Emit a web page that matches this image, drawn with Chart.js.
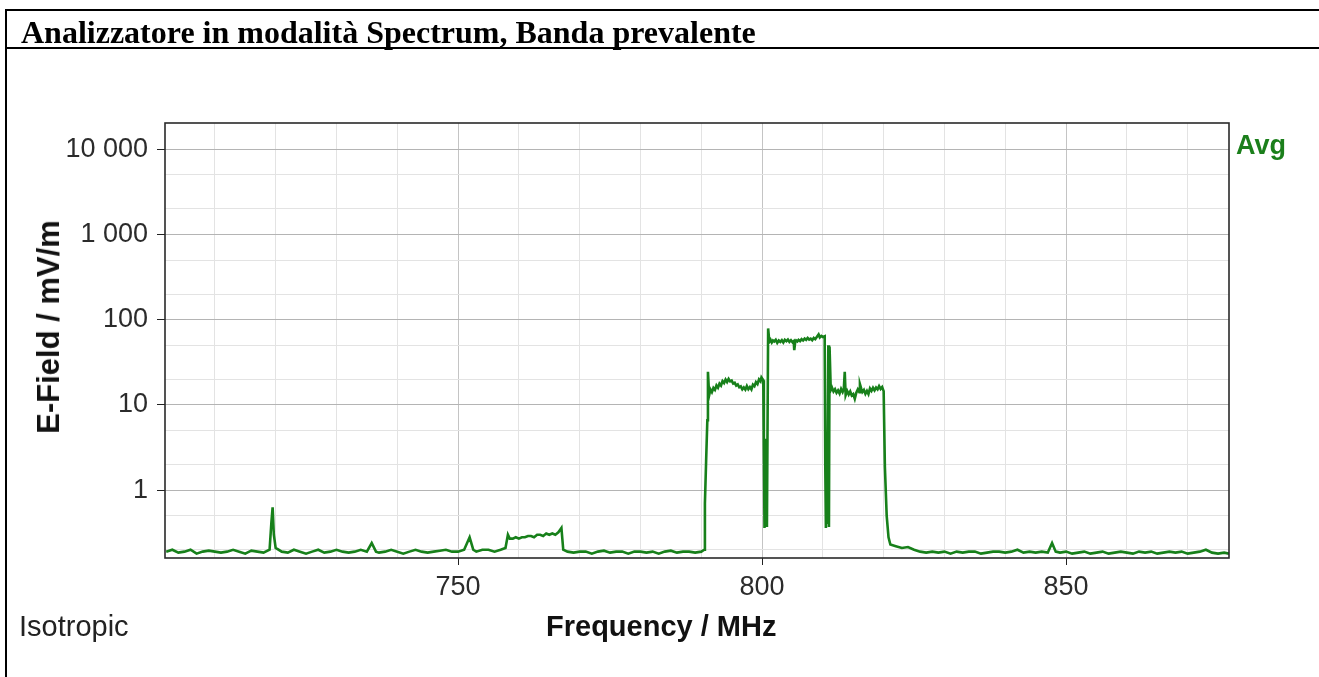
<!DOCTYPE html>
<html lang="it">
<head>
    <meta charset="UTF-8">
    <title>Analizzatore in modalità Spectrum</title>
    <script src="https://cdn.jsdelivr.net/npm/chart.js"></script>
    <style>
        body { margin: 0; background: #fff; }
        #page { position: relative; width: 1319px; height: 677px; overflow: hidden; }
        #chart-box { position: absolute; left: 0; top: 0; width: 1319px; height: 677px; }
        .rule { position: absolute; background: #000; }
        .txt { position: absolute; white-space: nowrap; line-height: 1; }
        #title { left: 21px; top: 14px; font: bold 32px "Liberation Serif", "Times New Roman", serif; color: #000; }
        #y-title { left: 49px; top: 327px; font: bold 31px "Liberation Sans", Arial, sans-serif; color: #111;
                   transform: translate(-50%, -50%) rotate(-90deg); }
        #x-title { left: 546px; top: 610px; font: bold 29px "Liberation Sans", Arial, sans-serif; color: #111; }
        #iso { left: 19px; top: 610px; font: 29px "Liberation Sans", Arial, sans-serif; color: #222; }
        #avg { left: 1236px; top: 130px; font: bold 27px "Liberation Sans", Arial, sans-serif; color: #1b7f1b; }
    </style>
</head>
<body>
<div id="page">
    <div id="chart-box"><canvas id="spectrumChart"></canvas></div>
    <div class="rule" style="left:5px; top:9px; width:1314px; height:2px;"></div>
    <div class="rule" style="left:5px; top:47px; width:1314px; height:2px;"></div>
    <div class="rule" style="left:5px; top:9px; width:2px; height:668px;"></div>
    <div class="txt" id="title">Analizzatore in modalità Spectrum, Banda prevalente</div>
    <div class="txt" id="y-title">E-Field / mV/m</div>
    <div class="txt" id="x-title">Frequency / MHz</div>
    <div class="txt" id="iso">Isotropic</div>
    <div class="txt" id="avg">Avg</div>
</div>
<script>
    // Avg trace, frequency in MHz / E-field in mV/m
    const freqMHz = [
        702, 703, 704, 705, 706, 707, 708, 709, 710, 711,
        712, 713, 714, 715, 716, 717, 718, 719, 719.3, 719.5,
        719.7, 720, 721, 722, 723, 724, 725, 726, 727, 728,
        729, 730, 731, 732, 733, 734, 735, 735.8, 736.5, 737,
        738, 739, 740, 741, 742, 743, 744, 745, 746, 747,
        748, 749, 750, 751, 751.9, 752.5, 753, 754, 755, 756,
        757, 757.8, 758.2, 758.5, 759, 759.5, 760, 760.5, 761, 761.5,
        762, 762.5, 763, 763.5, 764, 764.5, 765, 765.5, 766, 766.5,
        767, 767.3, 768, 769, 770, 771, 772, 773, 774, 775,
        776, 777, 778, 779, 780, 781, 782, 783, 784, 785,
        786, 787, 788, 789, 790, 790.5, 790.6, 790.8, 791, 791.1,
        // block 791-800
        791.3, 791.5, 791.75, 792, 792.25, 792.5, 792.75, 793, 793.25, 793.5,
        793.75, 794, 794.25, 794.5, 794.75, 795, 795.25, 795.5, 795.75, 796,
        796.25, 796.5, 796.75, 797, 797.25, 797.5, 797.75, 798, 798.25, 798.5,
        798.75, 799, 799.25, 799.5, 799.75, 799.9, 800.2,
        800.3, 800.4, 800.5, 800.6, 800.7, 800.8,
        // block 801-810
        801, 801.2, 801.4, 801.6, 801.8, 802, 802.25, 802.5, 802.75, 803,
        803.25, 803.5, 803.75, 804, 804.25, 804.5, 804.75, 805, 805.2, 805.3,
        805.45, 805.6, 805.8, 806, 806.25, 806.5, 806.75, 807, 807.25, 807.5,
        807.75, 808, 808.25, 808.5, 808.75, 809, 809.3, 809.5, 809.75, 810,
        810.3,
        810.4, 810.5, 810.6, 810.7, 810.9, 811, 811.1,
        // block 811-820
        811.3, 811.5, 811.75, 812, 812.25, 812.5, 812.75, 813, 813.25, 813.45,
        813.6, 813.75, 814, 814.25, 814.5, 814.75, 815, 815.25, 815.5, 815.75,
        816, 816.1, 816.3, 816.5, 816.75, 817, 817.25, 817.5, 817.75, 818,
        818.25, 818.5, 818.75, 819, 819.25, 819.5, 819.75, 820, 820.2,
        820.5, 820.8, 821.1, 822, 823, 824, 825, 826, 827, 828,
        829, 830, 831, 832, 833, 834, 835, 836, 837, 838,
        839, 840, 841, 842, 843, 844, 845, 846, 847, 847.7,
        848.3, 849, 850, 851, 852, 853, 854, 855, 856, 857,
        858, 859, 860, 861, 862, 863, 864, 865, 866, 867,
        868, 869, 870, 871, 872, 873, 874, 875, 876, 876.8
    ];
    const avgEField = [
        0.19, 0.2, 0.185, 0.19, 0.2, 0.18, 0.19, 0.195, 0.19, 0.185,
        0.19, 0.2, 0.19, 0.18, 0.195, 0.19, 0.185, 0.2, 0.42, 0.63,
        0.3, 0.21, 0.19, 0.185, 0.2, 0.19, 0.18, 0.19, 0.2, 0.185,
        0.19, 0.2, 0.19, 0.185, 0.19, 0.2, 0.19, 0.24, 0.19, 0.185,
        0.19, 0.2, 0.19, 0.18, 0.19, 0.2, 0.19, 0.185, 0.19, 0.195,
        0.2, 0.19, 0.19, 0.2, 0.28, 0.2, 0.19, 0.2, 0.2, 0.19,
        0.2, 0.21, 0.3, 0.27, 0.27, 0.28, 0.27, 0.28, 0.28, 0.29,
        0.29, 0.28, 0.3, 0.3, 0.29, 0.31, 0.3, 0.31, 0.3, 0.32,
        0.36, 0.2, 0.19, 0.185, 0.19, 0.19, 0.18, 0.19, 0.195, 0.185,
        0.19, 0.19, 0.18, 0.19, 0.19, 0.185, 0.19, 0.18, 0.19, 0.195,
        0.185, 0.19, 0.19, 0.185, 0.19, 0.2, 0.7, 2.2, 6.6, 24.5,
        // block 791-800
        13, 15.2, 14.1, 15.8, 15.0, 16.9, 15.9, 17.8, 16.9, 19.0,
        18.1, 19.9, 18.6, 20.2, 18.9, 19.3, 17.8, 18.2, 16.9, 17.4,
        16.1, 16.5, 15.2, 16.0, 15.1, 16.7, 15.3, 16.2, 15.2, 17.3,
        16.6, 18.5, 17.6, 19.9, 18.9, 21.0, 19.5,
        3, 0.36, 1.6, 0.42, 4, 0.37,
        // block 801-810
        79, 55, 58, 54, 57, 55.5, 58, 53.5, 57, 55,
        57.5, 54, 58, 56, 58.5, 55, 57.5, 54.5, 56, 44,
        55, 57, 55.5, 58, 56, 59, 57, 60, 58, 61,
        58.5, 60, 57.5, 61, 59, 62.5, 67, 62, 64.5, 62.5,
        64,
        1.9, 0.36, 3.5, 0.4, 50, 0.37, 48.5,
        // block 811-820
        14.9, 16, 14.4, 15.3, 13.9, 14.8, 13.6, 15.4, 14.2, 15.5,
        24.5, 13.0, 14.6, 13.3, 14.4, 12.9, 13.4, 11.8, 13.9, 15.2,
        14.1, 17.5, 15.6, 14.2, 15.0, 13.5, 14.6, 13.4, 15.6, 14.6,
        15.9, 14.8, 16.0, 15.2, 16.6, 15.4, 16.2, 14.5, 1.9,
        0.5, 0.28, 0.23, 0.22, 0.21, 0.215, 0.2, 0.19, 0.185, 0.19,
        0.185, 0.19, 0.18, 0.19, 0.185, 0.19, 0.19, 0.18, 0.185, 0.19,
        0.19, 0.185, 0.19, 0.2, 0.185, 0.19, 0.185, 0.19, 0.185, 0.24,
        0.19, 0.185, 0.19, 0.18, 0.185, 0.19, 0.18, 0.185, 0.19, 0.18,
        0.185, 0.19, 0.185, 0.18, 0.19, 0.185, 0.19, 0.18, 0.185, 0.19,
        0.185, 0.19, 0.18, 0.185, 0.19, 0.2, 0.185, 0.18, 0.185, 0.18
    ];

    const xGridTicks = [710, 720, 730, 740, 750, 760, 770, 780, 790, 800, 810, 820, 830, 840, 850, 860, 870];
    const xLabelTicks = [750, 800, 850];
    const yGridTicks = [0.2, 0.5, 1, 2, 5, 10, 20, 50, 100, 200, 500, 1000, 2000, 5000, 10000];
    const yLabelTicks = [1, 10, 100, 1000, 10000];

    const PLOT = { left: 165, top: 123, right: 1229, bottom: 558 };

    function thousands(v) {
        return String(v).replace(/\B(?=(\d{3})+(?!\d))/g, ' ');
    }

    const plotFrame = {
        id: 'plotFrame',
        afterDraw(chart) {
            const a = chart.chartArea, c = chart.ctx;
            c.save();
            c.strokeStyle = '#2a2a2a';
            c.lineWidth = 1.6;
            c.strokeRect(a.left, a.top, a.right - a.left, a.bottom - a.top);
            c.restore();
        }
    };

    new Chart(document.getElementById('spectrumChart'), {
        type: 'line',
        data: {
            datasets: [{
                label: 'Avg',
                data: freqMHz.map((f, i) => ({ x: f, y: avgEField[i] })),
                borderColor: '#17801a',
                borderWidth: 2.6,
                pointRadius: 0,
                tension: 0
            }]
        },
        options: {
            responsive: true,
            maintainAspectRatio: false,
            animation: false,
            layout: { padding: { left: 0, top: PLOT.top, right: 1319 - PLOT.right, bottom: 0 } },
            plugins: { legend: { display: false }, tooltip: { enabled: false } },
            scales: {
                x: {
                    type: 'linear',
                    min: 701.8,
                    max: 876.8,
                    afterFit: s => { s.height = 677 - PLOT.bottom; },
                    afterBuildTicks: s => { s.ticks = xGridTicks.map(v => ({ value: v })); },
                    border: { display: false },
                    grid: {
                        color: ctx => ctx.tick && xLabelTicks.includes(ctx.tick.value) ? '#c4c4c4' : '#e3e3e3',
                        tickColor: ctx => ctx.tick && xLabelTicks.includes(ctx.tick.value) ? '#222' : 'rgba(0,0,0,0)',
                        tickLength: 7
                    },
                    ticks: {
                        autoSkip: false,
                        maxRotation: 0,
                        padding: 6,
                        color: '#2b2b2b',
                        font: { family: 'Liberation Sans, Arial', size: 27 },
                        callback: v => xLabelTicks.includes(v) ? String(v) : ''
                    }
                },
                y: {
                    type: 'logarithmic',
                    min: 0.16,
                    max: 20300,
                    afterFit: s => { s.width = PLOT.left; },
                    afterBuildTicks: s => { s.ticks = yGridTicks.map(v => ({ value: v })); },
                    border: { display: false },
                    grid: {
                        color: ctx => ctx.tick && yLabelTicks.includes(ctx.tick.value) ? '#b4b4b4' : '#e3e3e3',
                        tickColor: ctx => ctx.tick && yLabelTicks.includes(ctx.tick.value) ? '#222' : 'rgba(0,0,0,0)',
                        tickLength: 8
                    },
                    ticks: {
                        autoSkip: false,
                        padding: 9,
                        color: '#2b2b2b',
                        font: { family: 'Liberation Sans, Arial', size: 27 },
                        callback: v => yLabelTicks.includes(v) ? thousands(v) : ''
                    }
                }
            }
        },
        plugins: [plotFrame]
    });
</script>
</body>
</html>
